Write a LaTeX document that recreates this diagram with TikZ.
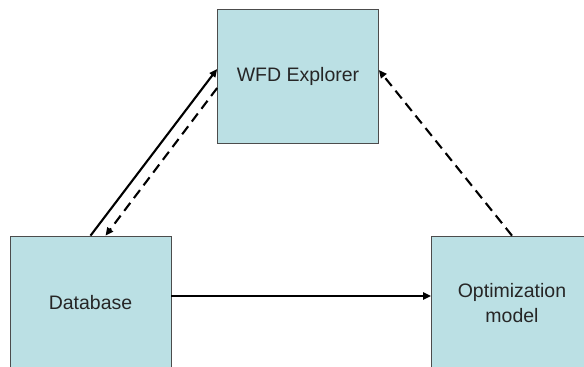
\documentclass[tikz,border=0pt]{standalone}
\usepackage{fontspec}
\setmainfont{Liberation Sans}
\usetikzlibrary{arrows.meta}

\begin{document}
\begin{tikzpicture}[x=1pt,y=-1pt,
    box/.style={rectangle,draw=black!70,fill=boxblue,line width=0.7pt,
                minimum width=161pt,minimum height=134pt,align=center,
                font=\fontsize{19.5}{25}\selectfont,text=black!85},
    link/.style={-{Triangle[length=8pt,width=7pt]},line width=2.1pt},
    dashlink/.style={link,dash pattern=on 10pt off 6pt}]

          \definecolor{boxblue}{HTML}{BBE0E4}
          \useasboundingbox (0,0) rectangle (584,367);
          \clip (0,0) rectangle (584,367);

          \node[box]  (wfd) at (298,76)   {WFD Explorer};
          \node[box]  (db)  at (90.5,303) {Database};
          \node[box]  (opt) at (512,303)  {Optimization\\model};

          \draw[link]     (db.north) -- ([yshift=7pt]wfd.west);
          \draw[dashlink] ([yshift=-12pt]wfd.west) -- ([xshift=15pt]db.north);
          \draw[dashlink] (opt.north) -- ([yshift=6pt]wfd.east);
          \draw[link]     ([yshift=7pt]db.east) -- ([yshift=7pt]opt.west);
        \end{tikzpicture}
\end{document}
